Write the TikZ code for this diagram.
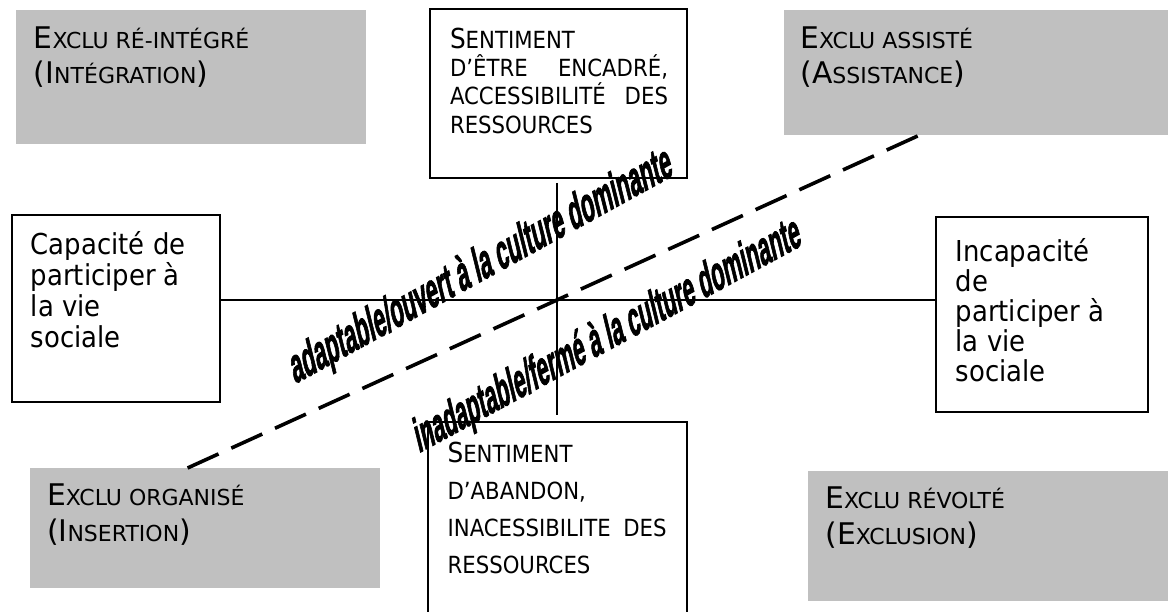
\documentclass[tikz,border=0pt]{standalone}
\usepackage{fontspec}
\setmainfont{DejaVu Sans}
\newfontfamily\tahfont[FakeStretch=0.9]{DejaVu Sans}
\newfontfamily\wafont[BoldFeatures={FakeBold=2.5}]{Liberation Sans}
\definecolor{silverC}{HTML}{C0C0C0}
\newcommand{\gBig}[1]{{\fontsize{29.8pt}{35pt}\selectfont #1}}
\newcommand{\gSml}[1]{{\fontsize{22pt}{35pt}\selectfont #1}}
\newcommand{\cBig}[1]{{\tahfont\fontsize{27.5pt}{28pt}\selectfont #1}}
\newcommand{\cSml}[1]{{\tahfont\fontsize{23.6pt}{28pt}\selectfont #1}}
\newcommand{\mylines}[2]{\vtop{\baselineskip=#1\lineskip=0pt\lineskiplimit=-1000pt #2}}
\begin{document}
\begin{tikzpicture}[x=1pt,y=-1pt,
  graybox/.style={fill=silverC,draw=none,inner sep=0pt,outer sep=0pt,anchor=north west},
  wbox/.style={draw=black,line width=1.4pt,fill=white,inner sep=0pt,outer sep=0pt,anchor=north west},
  txt/.style={anchor=base west,inner sep=0pt,outer sep=0pt,text=black},
  axis/.style={draw=black,line width=1.4pt},
  dashline/.style={draw=black,line width=3.6pt,dash pattern=on 34pt off 14pt},
  wordart/.style={anchor=base west,inner sep=0pt,outer sep=0pt,font=\wafont\bfseries,transform shape}]
\useasboundingbox (0,0) rectangle (1168,612);
\clip (0,0) rectangle (1168,612);
\fill[white] (0,0) rectangle (1168,612);

% grey quadrant boxes
\node[graybox,minimum width=350pt,minimum height=134pt] (tl) at (16,10) {};
\node[graybox,minimum width=390pt,minimum height=125pt] (tr) at (784,10) {};
\node[graybox,minimum width=350pt,minimum height=120pt] (bl) at (30,468) {};
\node[graybox,minimum width=370pt,minimum height=130pt] (br) at (808,471) {};

% white boxes
\node[wbox,minimum width=257pt,minimum height=169pt] (top) at (430,9) {};
\node[wbox,minimum width=259pt,minimum height=210pt] (bot) at (428,422) {};
\node[wbox,minimum width=208pt,minimum height=187pt] (left) at (12,215) {};
\node[wbox,minimum width=212pt,minimum height=195pt] (right) at (936,217) {};

% axes
\coordinate (c) at (557,300);
\draw[axis] (left.east |- c) -- (right.west |- c);
\draw[axis,shorten <=5pt,shorten >=7pt] (top.south -| c) -- (bot.north -| c);

% dashed separator
\coordinate (d1) at (187.6,468);
\coordinate (d2) at (919.8,135);
\draw[dashline] (d1) -- (d2);

% texts in grey boxes
\node[txt] (tltext) at (33.8,48.3) {\mylines{35pt}{\hbox{\gBig{E}\gSml{XCLU RÉ-INTÉGRÉ}}\hbox{\gBig{(I}\gSml{NTÉGRATION}\gBig{)}}}};
\node[txt] (trtext) at (800.4,48.3) {\mylines{35pt}{\hbox{\gBig{E}\gSml{XCLU ASSISTÉ}}\hbox{\gBig{(A}\gSml{SSISTANCE}\gBig{)}}}};
\node[txt] (bltext) at (47.1,505) {\mylines{36.5pt}{\hbox{\gBig{E}\gSml{XCLU ORGANISÉ}}\hbox{\gBig{(I}\gSml{NSERTION}\gBig{)}}}};
\node[txt] (brtext) at (825.4,508) {\mylines{36.5pt}{\hbox{\gBig{E}\gSml{XCLU RÉVOLTÉ}}\hbox{\gBig{(E}\gSml{XCLUSION}\gBig{)}}}};

% texts in centre boxes
\node[txt] (toptext) at (450,48.3) {\mylines{28.3pt}{%
  \hbox{\cBig{S}\cSml{ENTIMENT}}%
  \hbox to 218pt{\cSml{D’ÊTRE\hfill ENCADRÉ,}}%
  \hbox to 218pt{\cSml{ACCESSIBILITÉ\hfill DES}}%
  \hbox{\cSml{RESSOURCES}}}};
\node[txt] (bottext) at (447.6,462) {\mylines{37.3pt}{%
  \hbox{\cBig{S}\cSml{ENTIMENT}}%
  \hbox{\cSml{D’ABANDON,}}%
  \hbox to 219pt{\cSml{INACESSIBILITE\hfill DES}}%
  \hbox{\cSml{RESSOURCES}}}};

% texts in side boxes
\node[txt,font=\tahfont\fontsize{28.8pt}{30pt}\selectfont] (lefttext) at (30.9,255) {\mylines{30.7pt}{%
  \hbox{Capacité de}\hbox{participer à}\hbox{la vie}\hbox{sociale}}};
\node[txt,font=\tahfont\fontsize{28.8pt}{30pt}\selectfont] (righttext) at (955.7,261.7) {\mylines{30pt}{%
  \hbox{Incapacité}\hbox{de}\hbox{participer à}\hbox{la vie}\hbox{sociale}}};

% slanted labels (rotated, then stretched vertically like WordArt)
\begin{scope}[shift={(295,384)},yscale=1.49]
\node[wordart,rotate=20.3] (open) at (0,0) {\scalebox{1}[1.58]{\fontsize{21.4pt}{24pt}\selectfont adaptable/ouvert à la culture dominante}};
\end{scope}
\begin{scope}[shift={(419,453)},yscale=1.49]
\node[wordart,rotate=20.0] (closed) at (0,0) {\scalebox{1}[1.58]{\fontsize{21pt}{24pt}\selectfont inadaptable/fermé à la culture dominante}};
\end{scope}
\end{tikzpicture}
\end{document}
